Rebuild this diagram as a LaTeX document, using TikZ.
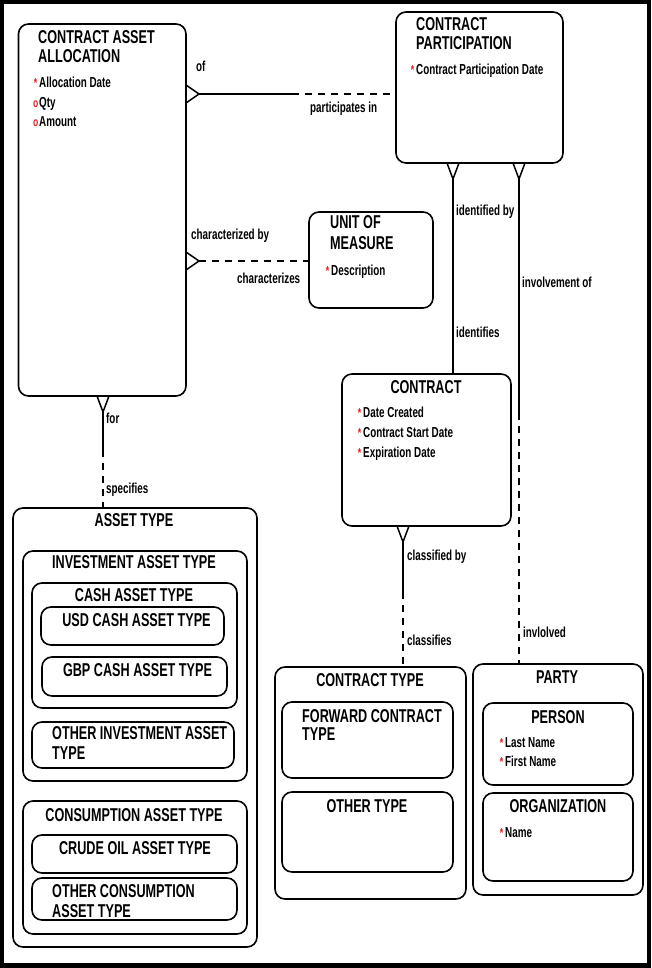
\documentclass[tikz,border=0pt]{standalone}
\usepackage{fontspec}
\setmainfont[FakeStretch=0.68]{Liberation Sans}
\usetikzlibrary{calc}
\definecolor{mk}{RGB}{225,30,35}
\newcommand\reqm{\llap{\textcolor{mk}{\fontsize{13}{13}\selectfont *}\hspace{2pt}}}
\newcommand\optm{\llap{\textcolor{mk}{\fontsize{12.5}{12}\selectfont o}\hspace{1pt}}}
\begin{document}
\begin{tikzpicture}[x=1pt,y=-1pt,
 ent/.style={draw, line width=1.6pt, rounded corners=10pt, inner sep=0pt, outer sep=0pt, anchor=north west},
 ttl/.style={font=\fontsize{18.6}{19}\selectfont\bfseries, inner sep=0pt, anchor=base},
 ttlw/.style={ttl, anchor=base west},
 attr/.style={font=\fontsize{14.5}{15}\selectfont\bfseries, inner sep=0pt, anchor=base west},
 rel/.style={line width=1.5pt},
 dsh/.style={line width=1.5pt, dash pattern=on 7pt off 6pt}]
% frame
\fill[black] (0,0) rectangle (651,968);
\fill[white] (4,4) rectangle (647,963);
\useasboundingbox (0,0) rectangle (651,968);

% entities
\node[ent, minimum width=167.5pt, minimum height=372pt] (caa) at (18.5,24) {};
\node[ent, minimum width=167pt, minimum height=151pt] (cp) at (396,12) {};
\node[ent, minimum width=124pt, minimum height=96pt] (uom) at (309,212) {};
\node[ent, minimum width=169pt, minimum height=152pt] (con) at (342,374) {};
\node[ent, minimum width=244pt, minimum height=439pt] (at) at (13,508) {};
\node[ent, minimum width=224pt, minimum height=230pt] (iat) at (23,551) {};
\node[ent, minimum width=205pt, minimum height=125pt] (cat) at (32,583) {};
\node[ent, minimum width=183pt, minimum height=38pt] (usd) at (41,607) {};
\node[ent, minimum width=185pt, minimum height=39pt] (gbp) at (42,657) {};
\node[ent, minimum width=202pt, minimum height=46pt] (oiat) at (32,722) {};
\node[ent, minimum width=224pt, minimum height=133pt] (cons) at (23,801) {};
\node[ent, minimum width=205pt, minimum height=38pt] (crude) at (32,835) {};
\node[ent, minimum width=205pt, minimum height=42pt] (ocat) at (32,878) {};
\node[ent, minimum width=191pt, minimum height=232pt] (ct) at (275,667) {};
\node[ent, minimum width=171pt, minimum height=76pt] (fct) at (282,702) {};
\node[ent, minimum width=171pt, minimum height=80pt] (ot) at (282,792) {};
\node[ent, minimum width=170pt, minimum height=231pt] (party) at (473,664) {};
\node[ent, minimum width=150pt, minimum height=82pt] (person) at (483,703) {};
\node[ent, minimum width=150pt, minimum height=88pt] (org) at (483,793) {};

% titles
\node[ttlw] (tcaa1) at (38,44) {CONTRACT ASSET};
\node[ttlw] (tcaa2) at (38,63) {ALLOCATION};
\node[ttlw] (tcp1) at (416,31) {CONTRACT};
\node[ttlw] (tcp2) at (416,50) {PARTICIPATION};
\node[ttlw] (tuom1) at (330,229) {UNIT OF};
\node[ttlw] (tuom2) at (330,250) {MEASURE};
\node[ttl] (tcon) at (426,393) {CONTRACT};
\node[ttl] (tat) at (134,526) {ASSET TYPE};
\node[ttl] (tiat) at (134,568) {INVESTMENT ASSET TYPE};
\node[ttl] (tcat) at (134,601) {CASH ASSET TYPE};
\node[ttl] (tusd) at (136.5,626) {USD CASH ASSET TYPE};
\node[ttl] (tgbp) at (137.5,676) {GBP CASH ASSET TYPE};
\node[ttlw] (toiat1) at (52,739) {OTHER INVESTMENT ASSET};
\node[ttlw] (toiat2) at (52,759) {TYPE};
\node[ttl] (tcons) at (134,821) {CONSUMPTION ASSET TYPE};
\node[ttl] (tcrude) at (135,854) {CRUDE OIL ASSET TYPE};
\node[ttlw] (tocat1) at (52,897) {OTHER CONSUMPTION};
\node[ttlw] (tocat2) at (52,917) {ASSET TYPE};
\node[ttl] (tct) at (370,686) {CONTRACT TYPE};
\node[ttlw] (tfct1) at (302,722) {FORWARD CONTRACT};
\node[ttlw] (tfct2) at (302,740) {TYPE};
\node[ttl] (tot) at (367,812) {OTHER TYPE};
\node[ttl] (tparty) at (557,683) {PARTY};
\node[ttl] (tperson) at (558,723) {PERSON};
\node[ttl] (torg) at (558,812) {ORGANIZATION};

% attributes
\node[attr] (a1) at (39,88) {\reqm Allocation Date};
\node[attr] (a2) at (39,107.5) {\optm Qty};
\node[attr] (a3) at (39,127) {\optm Amount};
\node[attr] (a4) at (416,75) {\reqm Contract Participation Date};
\node[attr] (a5) at (331,275) {\reqm Description};
\node[attr] (a6) at (363,417) {\reqm Date Created};
\node[attr] (a7) at (363,437) {\reqm Contract Start Date};
\node[attr] (a8) at (363,457) {\reqm Expiration Date};
\node[attr] (a9) at (505,747) {\reqm Last Name};
\node[attr] (a10) at (505,766) {\reqm First Name};
\node[attr] (a11) at (505,837) {\reqm Name};

% relationship CAA - CP
\draw[rel] ([yshift=-61pt]caa.north east) -- ++(13,9) coordinate (v1) -- ++(-13,9);
\coordinate (m1) at (292,94);
\draw[rel] (v1) -- (m1);
\draw[dsh] (m1) -- (cp.west |- m1);
\node[attr] (l1) at (196,72) {of};
\node[attr] (l2) at (310,113) {participates in};

% relationship CAA - UOM
\draw[rel] ([yshift=-228pt]caa.north east) -- ++(13,9) coordinate (v2) -- ++(-13,9);
\draw[dsh] (v2) -- (uom.west |- v2);
\node[attr] (l3) at (191,240) {characterized by};
\node[attr] (l4) at (237,283) {characterizes};

% relationship CP - CONTRACT
\draw[rel] ([xshift=51pt]cp.south west) -- ++(6,16) coordinate (v3) -- ++(6,-16);
\draw[rel] (v3) -- (con.north -| v3);
\node[attr] (l5) at (456,215) {identified by};
\node[attr] (l6) at (456,337) {identifies};

% relationship CP - PARTY
\draw[rel] ([xshift=117pt]cp.south west) -- ++(6,16) coordinate (v4) -- ++(6,-16);
\coordinate (m4) at (519,413);
\draw[rel] (v4) -- (m4);
\draw[dsh] (m4) -- (party.north -| m4);
\node[attr] (l7) at (522,287) {involvement of};
\node[attr] (l8) at (523,637) {invlolved};

% relationship CONTRACT - CONTRACT TYPE
\draw[rel] ([xshift=55pt]con.south west) -- ++(6,16) coordinate (v5) -- ++(6,-16);
\coordinate (m5) at (403,592);
\draw[rel] (v5) -- (m5);
\draw[dsh] (m5) -- (ct.north -| m5);
\node[attr] (l9) at (407,560) {classified by};
\node[attr] (l10) at (407,645) {classifies};

% relationship CAA - ASSET TYPE
\draw[rel] ([xshift=78.5pt]caa.south west) -- ++(6,16) coordinate (v6) -- ++(6,-16);
\coordinate (m6) at (103,450);
\draw[rel] (v6) -- (m6);
\draw[dsh] (m6) -- (at.north -| m6);
\node[attr] (l11) at (106,423) {for};
\node[attr] (l12) at (106,493) {specifies};
\end{tikzpicture}
\end{document}
